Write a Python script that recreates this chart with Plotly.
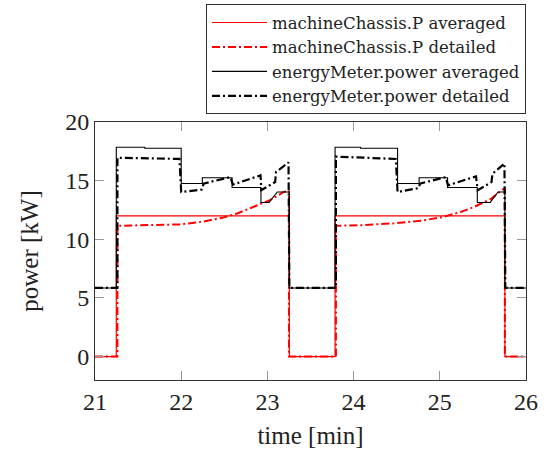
import plotly.graph_objects as go

# ---- data (time in min, power in kW) ----
t_chassis_avg = [21.0, 21.247, 21.247, 23.255, 23.255, 23.785, 23.785, 25.755, 25.755, 26.0]
p_chassis_avg = [0.0, 0.0, 12.0, 12.0, 0.0, 0.0, 12.0, 12.0, 0.0, 0.0]

t_chassis_det = [21.0, 21.26, 21.26, 21.6, 21.99, 22.25, 22.49, 22.65, 22.8, 23.03, 23.19, 23.25, 23.25,
                 23.795, 23.795, 24.1, 24.47, 24.8, 25.05, 25.25, 25.4, 25.6, 25.73, 25.755, 25.755, 26.0]
p_chassis_det = [0.0, 0.0, 11.15, 11.18, 11.27, 11.5, 11.86, 12.2, 12.63, 13.33, 14.03, 14.15, 0.0,
                 0.0, 11.15, 11.2, 11.36, 11.6, 11.92, 12.35, 12.76, 13.47, 14.26, 14.3, 0.0, 0.0]

t_meter_avg = [21.0, 21.247, 21.247, 21.577, 21.577, 22.0, 22.0, 22.245, 22.245, 22.59, 22.59,
               22.925, 22.925, 23.02, 23.115, 23.255, 23.255,
               23.785, 23.785, 24.08, 24.08, 24.51, 24.51, 24.76, 24.76, 25.09, 25.09,
               25.435, 25.435, 25.585, 25.675, 25.755, 25.755, 26.0]
p_meter_avg = [5.85, 5.85, 17.85, 17.85, 17.76, 17.76, 14.75, 14.75, 15.25, 15.25, 14.41,
               14.41, 13.14, 13.14, 14.03, 14.03, 5.85,
               5.85, 17.85, 17.85, 17.76, 17.76, 14.75, 14.75, 15.25, 15.25, 14.41,
               14.41, 13.14, 13.14, 14.03, 14.03, 5.85, 5.85]

t_meter_det = [21.0, 21.26, 21.26, 21.98, 22.0, 22.24, 22.26, 22.57, 22.6, 22.92, 22.93, 23.09, 23.1, 23.245, 23.255,
               23.795, 23.795, 24.49, 24.51, 24.755, 24.77, 25.07, 25.095, 25.42, 25.44, 25.6, 25.61, 25.75, 25.76, 26.0]
p_meter_det = [5.85, 5.85, 16.95, 16.85, 14.03, 14.24, 14.75, 15.3, 14.66, 15.45, 14.18, 14.88, 15.73, 16.55, 5.85,
               5.85, 17.05, 16.85, 14.03, 14.37, 14.75, 15.3, 14.6, 15.36, 14.18, 14.88, 15.59, 16.45, 5.85, 5.85]

x_ticks = [21, 22, 23, 24, 25, 26]
y_ticks = [0, 5, 10, 15, 20]

FONT = "Liberation Serif"
LEGEND_FONT = "DejaVu Serif"

fig = go.Figure()
fig.add_trace(go.Scatter(x=t_chassis_avg, y=p_chassis_avg, mode="lines",
                         name="machineChassis.P averaged",
                         line=dict(color="#ff0000", width=1.2)))
fig.add_trace(go.Scatter(x=t_chassis_det, y=p_chassis_det, mode="lines",
                         name="machineChassis.P detailed",
                         line=dict(color="#ff0000", width=2, dash="8px,3px,2px,3px")))
fig.add_trace(go.Scatter(x=t_meter_avg, y=p_meter_avg, mode="lines",
                         name="energyMeter.power averaged",
                         line=dict(color="#000000", width=1.1)))
fig.add_trace(go.Scatter(x=t_meter_det, y=p_meter_det, mode="lines",
                         name="energyMeter.power detailed",
                         line=dict(color="#000000", width=2.2, dash="8px,3px,2px,3px")))

axis_common = dict(showgrid=False, zeroline=False, showline=True, linecolor="#333333", linewidth=1,
                   mirror="ticks", ticks="inside", ticklen=9, tickcolor="#999999", tickwidth=1,
                   tickfont=dict(family=FONT, size=24, color="#222222"))

fig.update_xaxes(range=[21, 26], tickvals=x_ticks, ticktext=[str(v) for v in x_ticks],
                 title=dict(text="time [min]", font=dict(family=FONT, size=25, color="#222222"), standoff=12),
                 **axis_common)
fig.update_yaxes(range=[-2, 20], tickvals=y_ticks, ticktext=[str(v) for v in y_ticks],
                 title=dict(text="power [kW]", font=dict(family=FONT, size=25, color="#222222"), standoff=19),
                 **axis_common)

fig.update_layout(
    width=544, height=456,
    margin=dict(l=95, r=18, t=122, b=76, autoexpand=False),
    plot_bgcolor="white", paper_bgcolor="white",
    font=dict(family=FONT, color="#222222"),
    legend=dict(x=1, y=1.03, xanchor="right", yanchor="bottom",
                bordercolor="#333333", borderwidth=1, bgcolor="white",
                font=dict(family=LEGEND_FONT, size=16.5, color="#222222"),
                tracegroupgap=0, itemwidth=55),
    showlegend=True,
)

fig.write_html("out.html", config={"displayModeBar": False},
               post_script="document.body.style.margin='0';")
